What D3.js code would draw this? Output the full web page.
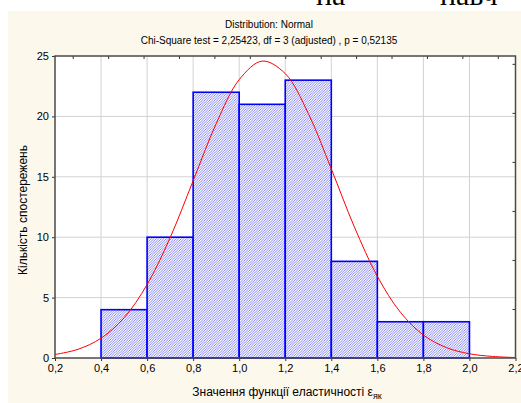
<!DOCTYPE html>
<html lang="uk">
<head>
	<meta charset="UTF-8">
	<title>Histogram</title>
	<script src="https://cdn.jsdelivr.net/npm/d3@7"></script>
	<style>
		body{
			margin: 0px;
			background: #fff;
		}
		text{
			font-family: "Liberation Sans", Arial, sans-serif;
		}
	</style>
</head>
<body>
	<svg></svg>
	<script>
		// histogram bins (lower edge) and counts
		var binStarts = [0.4, 0.6, 0.8, 1.0, 1.2, 1.4, 1.6, 1.8];
		var counts = [4, 10, 22, 21, 23, 8, 3, 3];
		var binWidth = 0.2;

		// expected normal curve, every 0.1
		var curveX = [0.2, 0.3, 0.4, 0.5, 0.6, 0.7, 0.8, 0.9, 1.0, 1.1, 1.2, 1.3, 1.4, 1.5, 1.6, 1.7, 1.8, 1.9, 2.0, 2.1, 2.2];
		var curveY = [0.29, 0.72, 1.64, 3.33, 6.08, 9.96, 14.67, 19.4, 23.04, 24.58, 23.54, 20.25, 15.65, 10.86, 6.76, 3.79, 1.9, 0.86, 0.35, 0.13, 0.04];

		var xTicks = [0.2, 0.4, 0.6, 0.8, 1.0, 1.2, 1.4, 1.6, 1.8, 2.0, 2.2];
		var yTicks = [0, 5, 10, 15, 20, 25];

		var title1 = "Distribution: Normal";
		var title2 = "Chi-Square test = 2,25423, df = 3 (adjusted) , p = 0,52135";
		var yTitle = "Кількість спостережень";
		var xTitle = "Значення функції еластичності ε";
		var xTitleSub = "як";

		window.onload = () => {
			var w = 521,
				h = 403,
				svg = d3.select("svg").attr("width", w).attr("height", h);

			var pL = 55, pR = 515.5, pT = 56, pB = 358;

			var x = d3.scaleLinear().domain([0.2, 2.2]).range([pL, pR]),
				y = d3.scaleLinear().domain([0, 25]).range([pB, pT]);

			// secondary (unlabelled) tick scales on top and right
			var xTop = d3.scaleLinear().domain([-0.5, 12.5]).range([pL, pR]),
				yRight = d3.scaleLinear().domain([0, 6.16]).range([pB, pT]);

			var fmt = function(v) { return d3.format(".1f")(v).replace(".", ","); };

			var defs = svg.append("defs");
			var pat = defs.append("pattern")
				.attr("id", "hatch")
				.attr("patternUnits", "userSpaceOnUse")
				.attr("width", 2.5).attr("height", 2.5);
			pat.append("rect").attr("width", 2.5).attr("height", 2.5).attr("fill", "#fff");
			pat.append("path")
				.attr("d", "M-1,1 L1,-1 M0,2.5 L2.5,0 M1.5,3.5 L3.5,1.5")
				.attr("stroke", "#5c5cf5")
				.attr("stroke-width", 0.75);

			// clipped large text from the page above
			svg.append("text").attr("x", 316).attr("y", 5)
				.style("font-family", "'Liberation Serif', 'DejaVu Serif', serif")
				.style("font-size", "30px").text("на");
			svg.append("text").attr("x", 440).attr("y", 5)
				.style("font-family", "'Liberation Serif', 'DejaVu Serif', serif")
				.style("font-size", "30px").text("навч");

			svg.append("rect")
				.attr("x", 8).attr("y", 11)
				.attr("width", w - 8).attr("height", h - 11)
				.attr("fill", "#fdf8ec");

			svg.append("rect")
				.attr("x", pL).attr("y", pT)
				.attr("width", pR - pL).attr("height", pB - pT)
				.attr("fill", "#fff");

			// grid
			svg.append("g").selectAll("line")
				.data(xTicks.slice(1, -1)).enter().append("line")
				.attr("x1", d => x(d)).attr("x2", d => x(d))
				.attr("y1", pT).attr("y2", pB)
				.attr("stroke", "#d2d2d2").attr("stroke-width", 1);
			svg.append("g").selectAll("line")
				.data(yTicks.slice(1, -1)).enter().append("line")
				.attr("y1", d => y(d)).attr("y2", d => y(d))
				.attr("x1", pL).attr("x2", pR)
				.attr("stroke", "#d2d2d2").attr("stroke-width", 1);

			// bars
			svg.append("g").selectAll("rect")
				.data(counts).enter().append("rect")
				.attr("x", (d, i) => x(binStarts[i]))
				.attr("y", d => y(d))
				.attr("width", (d, i) => x(binStarts[i] + binWidth) - x(binStarts[i]))
				.attr("height", d => y(0) - y(d))
				.attr("fill", "url(#hatch)")
				.attr("stroke", "#0000ff")
				.attr("stroke-width", 1.6);

			// normal curve
			var line = d3.line()
				.x(d => x(d[0]))
				.y(d => y(d[1]))
				.curve(d3.curveCatmullRom);
			svg.append("path")
				.datum(curveX.map((v, i) => [v, curveY[i]]))
				.attr("d", line)
				.attr("fill", "none")
				.attr("stroke", "#ff0000")
				.attr("stroke-width", 1);

			// axes
			var xAxis = svg.append("g")
				.attr("transform", "translate(0," + pB + ")")
				.call(d3.axisBottom(x).tickValues(xTicks).tickFormat(fmt).tickSize(3).tickPadding(3));
			var yAxis = svg.append("g")
				.attr("transform", "translate(" + pL + ",0)")
				.call(d3.axisLeft(y).tickValues(yTicks).tickSize(3).tickPadding(3));
			var topAxis = svg.append("g")
				.attr("transform", "translate(0," + pT + ")")
				.call(d3.axisBottom(xTop).tickValues(d3.range(0, 13)).tickFormat("").tickSize(3));
			var rightAxis = svg.append("g")
				.attr("transform", "translate(" + pR + ",0)")
				.call(d3.axisLeft(yRight).tickValues(d3.range(1, 7)).tickFormat("").tickSize(3));

			[xAxis, yAxis, topAxis, rightAxis].forEach(function(g) {
				g.select(".domain").remove();
				g.selectAll("line").attr("stroke", "#333");
				g.selectAll("text")
					.style("font-family", "'Liberation Sans', Arial, sans-serif")
					.style("font-size", "11px")
					.attr("fill", "#000");
			});

			// frame
			svg.append("rect")
				.attr("x", pL).attr("y", pT)
				.attr("width", pR - pL).attr("height", pB - pT)
				.attr("fill", "none")
				.attr("stroke", "#4a4a4a")
				.attr("stroke-width", 1.5);

			// titles
			svg.append("text").attr("x", 269).attr("y", 28)
				.attr("text-anchor", "middle").style("font-size", "10px").text(title1);
			svg.append("text").attr("x", 269).attr("y", 44)
				.attr("text-anchor", "middle").style("font-size", "10px").text(title2);

			svg.append("text")
				.attr("transform", "translate(27,210) rotate(-90)")
				.attr("text-anchor", "middle")
				.style("font-size", "12px")
				.text(yTitle);

			var xt = svg.append("text")
				.attr("x", 287).attr("y", 396)
				.attr("text-anchor", "middle")
				.style("font-size", "12px")
				.text(xTitle);
			xt.append("tspan")
				.attr("dy", 3)
				.style("font-size", "9px")
				.text(xTitleSub);
		};
	</script>
</body>
</html>
